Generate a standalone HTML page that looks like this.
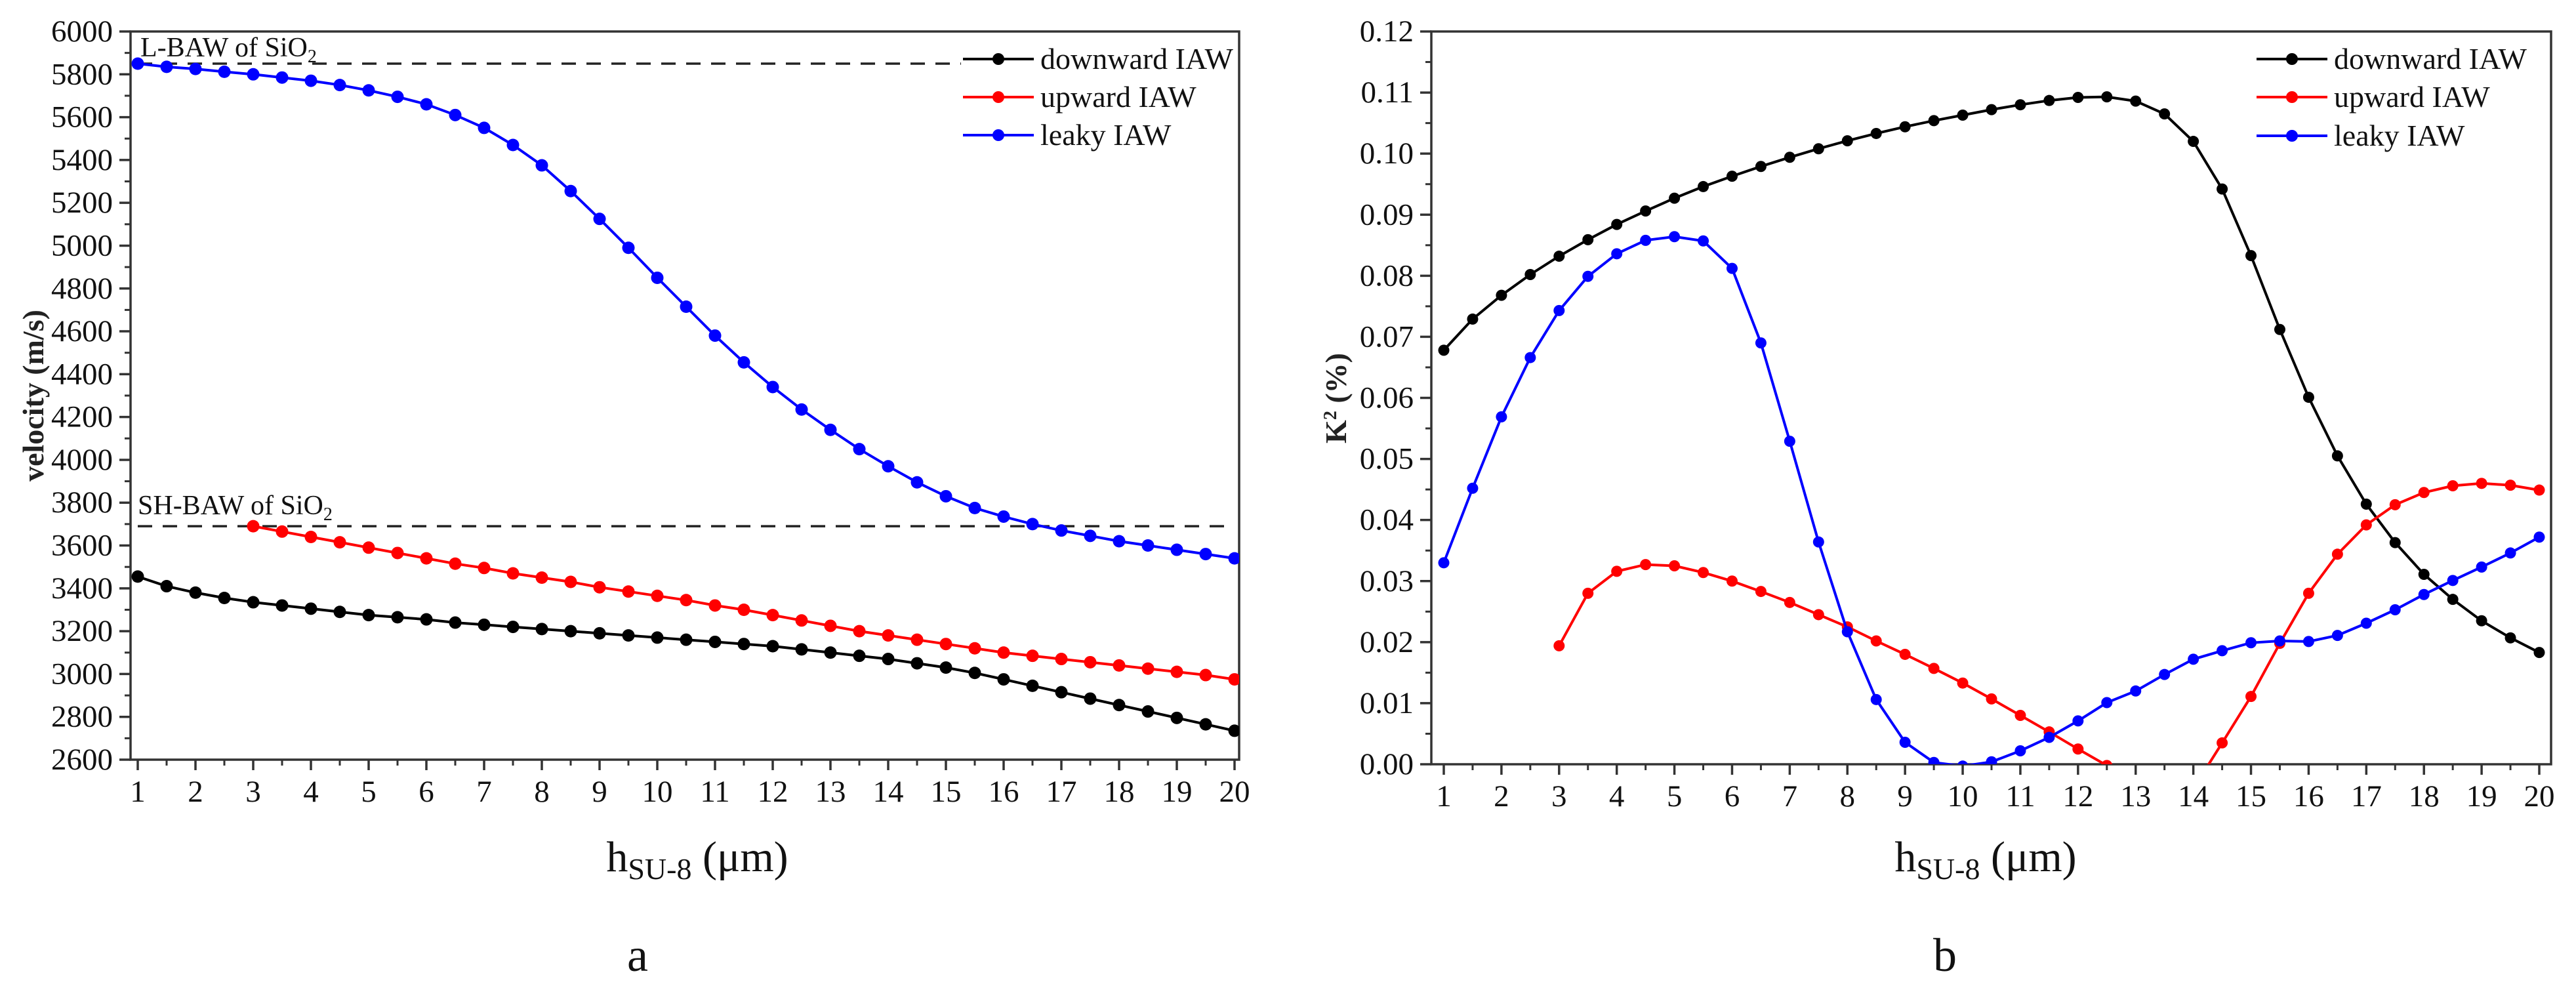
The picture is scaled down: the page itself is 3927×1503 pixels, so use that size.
<!DOCTYPE html>
<html><head><meta charset="utf-8"><style>
html,body{margin:0;padding:0;background:#fff;}
svg{display:block;font-family:"Liberation Serif",serif;}
text{font-family:"Liberation Serif",serif;}
</style></head><body>
<svg id="fig" width="3927" height="1503" viewBox="0 0 3927 1503" xmlns="http://www.w3.org/2000/svg">
<rect width="3927" height="1503" fill="#fff"/>
<defs>
<clipPath id="clipA"><rect x="199" y="48" width="1690" height="1110"/></clipPath>
<clipPath id="clipB"><rect x="2182" y="48" width="1707" height="1117"/></clipPath>
</defs>
</svg>
<script>
const xsA = [];
for (let i = 0; i < 39; i++) xsA.push(1 + i * 0.5);
const xsUp = xsA.slice(4);
const velDown = [3455,3410,3380,3355,3335,3320,3305,3290,3275,3265,3255,3240,3230,3220,3210,3200,3190,3180,3170,3160,3150,3140,3130,3115,3100,3085,3070,3050,3030,3005,2975,2945,2915,2885,2855,2825,2795,2765,2735];
const velUp = [3690,3665,3640,3615,3590,3565,3540,3515,3495,3470,3450,3430,3405,3385,3365,3345,3320,3300,3275,3250,3225,3200,3180,3160,3140,3120,3100,3085,3070,3055,3040,3025,3010,2995,2975];
const velLeaky = [5850,5835,5825,5812,5800,5785,5770,5750,5725,5695,5660,5610,5550,5470,5375,5255,5125,4990,4850,4715,4580,4455,4340,4235,4140,4050,3970,3895,3830,3775,3735,3700,3670,3645,3620,3600,3580,3560,3540];
const k2Down = [0.0678,0.0729,0.0768,0.0802,0.0832,0.0859,0.0884,0.0906,0.0927,0.0946,0.0963,0.0979,0.0994,0.1008,0.1021,0.1033,0.1044,0.1054,0.1063,0.1072,0.1080,0.1087,0.1092,0.1093,0.1086,0.1065,0.1020,0.0942,0.0833,0.0712,0.0601,0.0505,0.0426,0.0363,0.0311,0.0270,0.0235,0.0207,0.0183];
const k2Up = [0.0194,0.0280,0.0316,0.0327,0.0325,0.0314,0.0300,0.0283,0.0265,0.0245,0.0225,0.0202,0.0180,0.0157,0.0133,0.0107,0.0080,0.0053,0.0025,-0.0002,-0.005,-0.008,-0.004,0.0035,0.0111,0.0198,0.0280,0.0344,0.0392,0.0425,0.0445,0.0456,0.0460,0.0457,0.0449];
const k2Leaky = [0.0330,0.0452,0.0569,0.0666,0.0743,0.0799,0.0836,0.0858,0.0864,0.0857,0.0812,0.0690,0.0529,0.0364,0.0217,0.0106,0.0036,0.0003,-0.0003,0.0004,0.0022,0.0044,0.0071,0.0101,0.0120,0.0147,0.0172,0.0186,0.0199,0.0202,0.0201,0.0211,0.0231,0.0253,0.0278,0.0301,0.0323,0.0346,0.0372];
const xTicks = [1,2,3,4,5,6,7,8,9,10,11,12,13,14,15,16,17,18,19,20];
const yTicksA = [2600,2800,3000,3200,3400,3600,3800,4000,4200,4400,4600,4800,5000,5200,5400,5600,5800,6000];
const yTicksB = [0,0.01,0.02,0.03,0.04,0.05,0.06,0.07,0.08,0.09,0.10,0.11,0.12];
const lBaw = 5850, shBaw = 3690;

const NS = 'http://www.w3.org/2000/svg';
const svg = document.getElementById('fig');
const FONT = '"Liberation Serif", serif';
function mk(tag, attrs, parent, text) {
  const e = document.createElementNS(NS, tag);
  for (const k in attrs) e.setAttribute(k, attrs[k]);
  if (tag === 'text') e.setAttribute('font-family', FONT);
  if (text !== undefined) e.textContent = text;
  (parent || svg).appendChild(e);
  return e;
}

function panel(cfg) {
  const g = mk('g', {});
  
  
  const sx = v => cfg.x1px + (v - 1) * (cfg.x20px - cfg.x1px) / 19;
  const sy = v => cfg.bottom - (v - cfg.ymin) * (cfg.bottom - cfg.top) / (cfg.ymax - cfg.ymin);
  cfg.sx = sx; cfg.sy = sy;
  const fr = mk('rect', {x: cfg.left, y: cfg.top, width: cfg.right - cfg.left, height: cfg.bottom - cfg.top, fill: 'none', stroke: '#333', 'stroke-width': 3.5}, g);
  
  
  xTicks.forEach(t => {
    mk('line', {x1: sx(t), x2: sx(t), y1: cfg.bottom, y2: cfg.bottom + 16, stroke: '#333', 'stroke-width': 3.5}, g);
    if (t < 20) mk('line', {x1: sx(t + 0.5), x2: sx(t + 0.5), y1: cfg.bottom, y2: cfg.bottom + 9, stroke: '#333', 'stroke-width': 3}, g);
    const lb = mk('text', {x: sx(t), y: cfg.bottom + 64, 'font-size': 47, 'text-anchor': 'middle', fill: '#111'}, g, String(t));
    
    
  });
  cfg.yTicks.forEach((t, i) => {
    const y = sy(t);
    mk('line', {x1: cfg.left - 17, x2: cfg.left, y1: y, y2: y, stroke: '#333', 'stroke-width': 3.5}, g);
    if (i < cfg.yTicks.length - 1) {
      const ym = sy((t + cfg.yTicks[i + 1]) / 2);
      mk('line', {x1: cfg.left - 9, x2: cfg.left, y1: ym, y2: ym, stroke: '#333', 'stroke-width': 3}, g);
    }
    const lb = mk('text', {x: cfg.left - 27, y: y + 15, 'font-size': 47, 'text-anchor': 'end', fill: '#111'}, g, cfg.fmt(t));
    
    
  });
  return g;
}

function series(cfg, g, xs, ys, color, name, r) {
  const sg = mk('g', {'clip-path': 'url(#' + cfg.clip + ')'}, g);
  
  
  const pts = xs.map((x, i) => cfg.sx(x).toFixed(1) + ',' + cfg.sy(ys[i]).toFixed(1)).join(' ');
  const pl = mk('polyline', {points: pts, fill: 'none', stroke: color, 'stroke-width': 4}, sg);
  
  
  xs.forEach((x, i) => {
    const c = mk('circle', {cx: cfg.sx(x), cy: cfg.sy(ys[i]), r: r, fill: color}, sg);
    
    
  });
}

function legend(g, x, ys, texts, colors) {
  texts.forEach((t, i) => {
    const lg = mk('g', {}, g);
    
    
    mk('line', {x1: x, x2: x + 108, y1: ys[i], y2: ys[i], stroke: colors[i], 'stroke-width': 4}, lg);
    mk('circle', {cx: x + 54, cy: ys[i], r: 9, fill: colors[i]}, lg);
    mk('text', {x: x + 118, y: ys[i] + 15, 'font-size': 46, fill: '#111'}, lg, t);
  });
}

const A = {name: 'chart-a-velocity', left: 199, right: 1889, top: 48, bottom: 1158, x1px: 210, x20px: 1882, ymin: 2600, ymax: 6000, yTicks: yTicksA, fmt: t => String(t), clip: 'clipA'};
const gA = panel(A);
const dl = mk('line', {x1: A.sx(1), x2: 1465, y1: A.sy(lBaw), y2: A.sy(lBaw), stroke: '#222', 'stroke-width': 3.5, 'stroke-dasharray': '22,16'}, gA);


const dl2 = mk('line', {x1: A.sx(1), x2: A.sx(20), y1: A.sy(shBaw), y2: A.sy(shBaw), stroke: '#222', 'stroke-width': 3.5, 'stroke-dasharray': '22,16'}, gA);


const t1 = mk('text', {x: 214, y: 86, 'font-size': 42, fill: '#111'}, gA);


t1.innerHTML = 'L-BAW of SiO<tspan font-size="28" dy="9">2</tspan>';
const t2 = mk('text', {x: 210, y: A.sy(shBaw) - 18, 'font-size': 42, fill: '#111'}, gA);


t2.innerHTML = 'SH-BAW of SiO<tspan font-size="28" dy="9">2</tspan>';
series(A, gA, xsA, velLeaky, '#0000ff', 'leaky-iaw-series', 9.5);
series(A, gA, xsUp, velUp, '#ff0000', 'upward-iaw-series', 9.5);
series(A, gA, xsA, velDown, '#000000', 'downward-iaw-series', 9.5);
legend(gA, 1468, [90, 148, 206], ['downward IAW', 'upward IAW', 'leaky IAW'], ['#000', '#ff0000', '#0000ff']);
const yA = mk('text', {x: 0, y: 0, 'font-size': 46, 'font-weight': 'bold', fill: '#222', 'text-anchor': 'middle', transform: 'translate(66,603) rotate(-90)'}, gA, 'velocity (m/s)');


const xA = mk('text', {x: 1063, y: 1328, 'font-size': 66, 'text-anchor': 'middle', fill: '#111'}, gA);


xA.innerHTML = 'h<tspan font-size="46" dy="12">SU-8</tspan><tspan dy="-12"> (μm)</tspan>';
const la = mk('text', {x: 972, y: 1480, 'font-size': 72, 'text-anchor': 'middle', fill: '#111'}, gA, 'a');



const B = {name: 'chart-b-k2', left: 2182, right: 3889, top: 48, bottom: 1165, x1px: 2201, x20px: 3871, ymin: 0, ymax: 0.12, yTicks: yTicksB, fmt: t => t.toFixed(2), clip: 'clipB'};
const gB = panel(B);
series(B, gB, xsA, k2Down, '#000000', 'downward-iaw-series', 8.5);
series(B, gB, xsUp, k2Up, '#ff0000', 'upward-iaw-series', 8.5);
series(B, gB, xsA, k2Leaky, '#0000ff', 'leaky-iaw-series', 8.5);
legend(gB, 3440, [90, 148, 207], ['downward IAW', 'upward IAW', 'leaky IAW'], ['#000', '#ff0000', '#0000ff']);
const yB = mk('text', {x: 0, y: 0, 'font-size': 46, 'font-weight': 'bold', fill: '#222', 'text-anchor': 'middle', transform: 'translate(2052,607) rotate(-90)'}, gB);


yB.innerHTML = 'K<tspan font-size="28" dy="-15">2</tspan><tspan dy="15"> (%)</tspan>';
const xB = mk('text', {x: 3027, y: 1328, 'font-size': 66, 'text-anchor': 'middle', fill: '#111'}, gB);


xB.innerHTML = 'h<tspan font-size="46" dy="12">SU-8</tspan><tspan dy="-12"> (μm)</tspan>';
const lbB = mk('text', {x: 2965, y: 1480, 'font-size': 72, 'text-anchor': 'middle', fill: '#111'}, gB, 'b');


</script>
</body></html>
